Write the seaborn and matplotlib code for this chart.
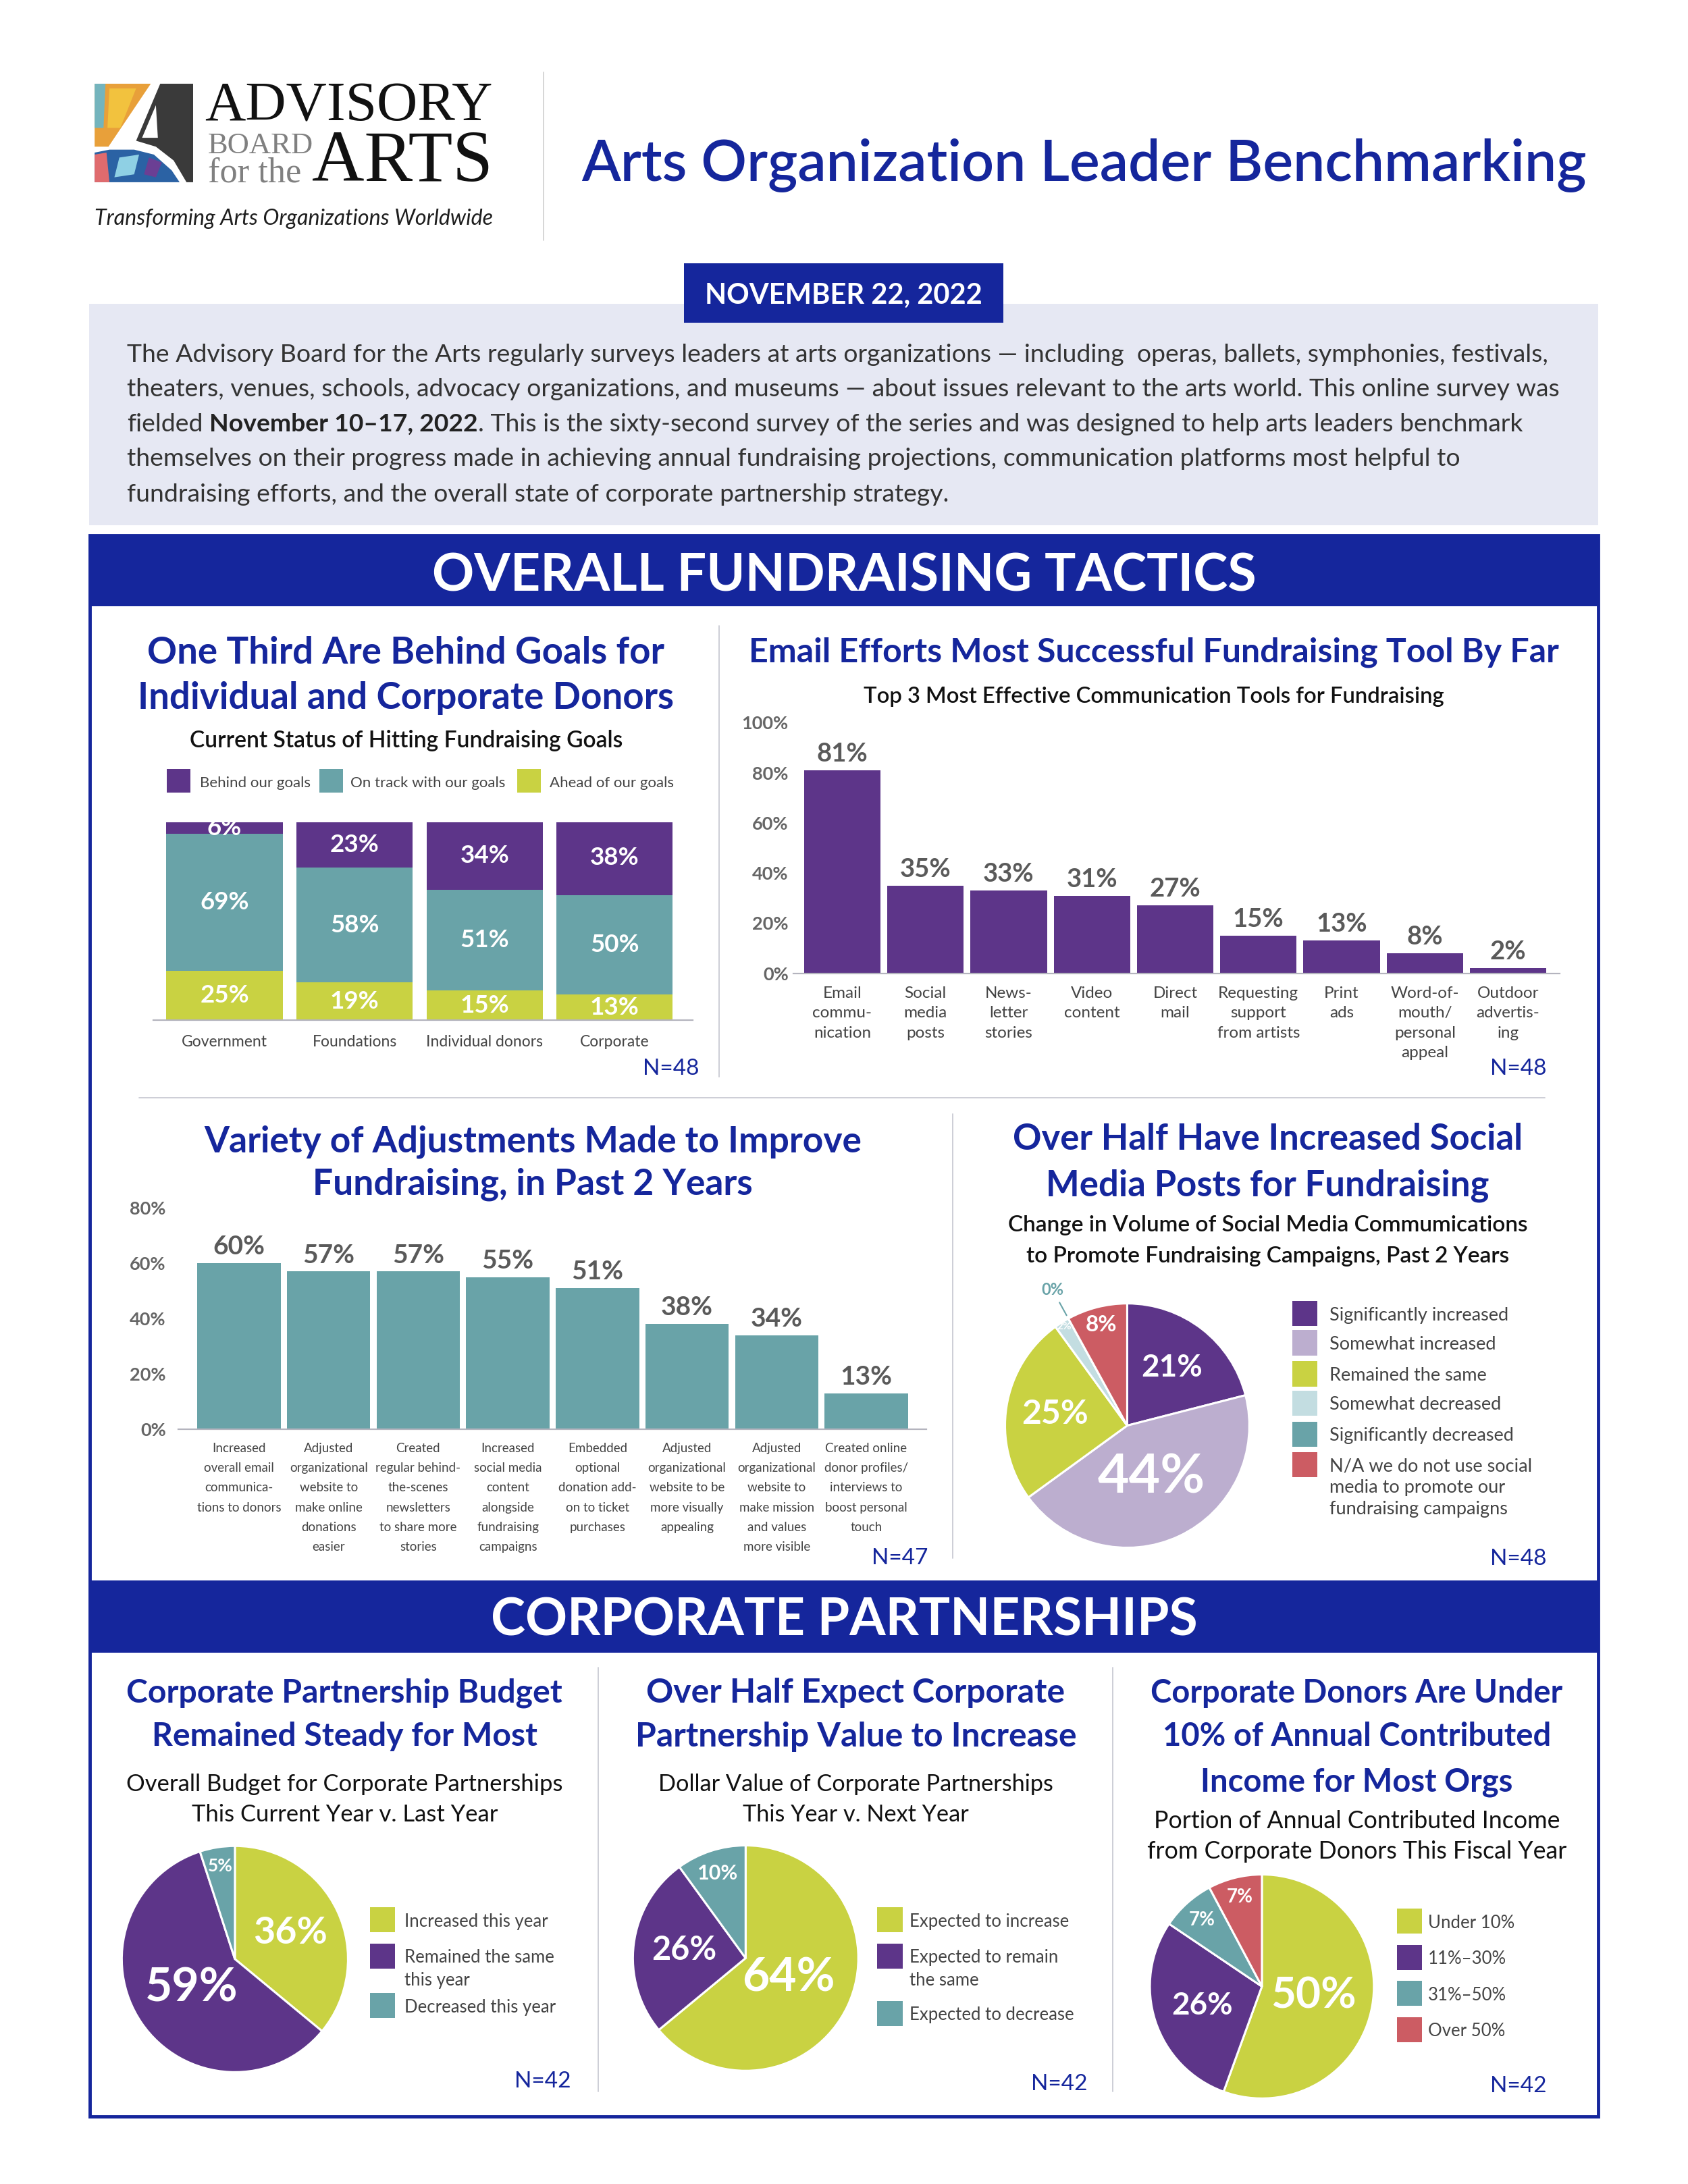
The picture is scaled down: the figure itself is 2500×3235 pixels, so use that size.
import matplotlib
matplotlib.use("Agg")
import matplotlib.pyplot as plt
import numpy as np
import pandas as pd
import seaborn as sns
from matplotlib.patches import Rectangle, Polygon
from matplotlib.lines import Line2D
from matplotlib import font_manager as fm

# ---------------- data ----------------
goal_categories = ["Government", "Foundations", "Individual donors", "Corporate"]
goal_behind = [6, 23, 34, 38]
goal_on_track = [69, 58, 51, 50]
goal_ahead = [25, 19, 15, 13]
goal_series = ["Behind our goals", "On track with our goals", "Ahead of our goals"]

tool_labels = ["Email\ncommu-\nnication", "Social\nmedia\nposts", "News-\nletter\nstories",
               "Video\ncontent", "Direct\nmail", "Requesting\nsupport\nfrom artists",
               "Print\nads", "Word-of-\nmouth/\npersonal\nappeal", "Outdoor\nadvertis-\ning"]
tool_values = [81, 35, 33, 31, 27, 15, 13, 8, 2]
tool_ticks = [0, 20, 40, 60, 80, 100]

adjust_labels = ["Increased\noverall email\ncommunica-\ntions to donors",
                 "Adjusted\norganizational\nwebsite to\nmake online\ndonations\neasier",
                 "Created\nregular behind-\nthe-scenes\nnewsletters\nto share more\nstories",
                 "Increased\nsocial media\ncontent\nalongside\nfundraising\ncampaigns",
                 "Embedded\noptional\ndonation add-\non to ticket\npurchases",
                 "Adjusted\norganizational\nwebsite to be\nmore visually\nappealing",
                 "Adjusted\norganizational\nwebsite to\nmake mission\nand values\nmore visible",
                 "Created online\ndonor profiles/\ninterviews to\nboost personal\ntouch"]
adjust_values = [60, 57, 57, 55, 51, 38, 34, 13]
adjust_ticks = [0, 20, 40, 60, 80]

social_labels = ["Significantly increased", "Somewhat increased", "Remained the same",
                 "Somewhat decreased", "Significantly decreased",
                 "N/A we do not use social\nmedia to promote our\nfundraising campaigns"]
social_values = [21, 44, 25, 2, 0, 8]

budget_labels = ["Increased this year", "Remained the same\nthis year", "Decreased this year"]
budget_values = [36, 59, 5]

value_labels = ["Expected to increase", "Expected to remain\nthe same", "Expected to decrease"]
value_values = [64, 26, 10]

income_labels = ["Under 10%", "11%\u201330%", "31%\u201350%", "Over 50%"]
income_values = [50, 26, 7, 7]

sample_sizes = ["N=48", "N=48", "N=47", "N=48", "N=42", "N=42", "N=42"]

# ---------------- style ----------------
PURPLE = "#5d3589"
TEAL = "#69a3a8"
YELLOW = "#c9d242"
LAVENDER = "#bcaecf"
LIGHTBLUE = "#c3dde1"
RED = "#cc5c63"
BLUE = "#15269c"
GRAY = "#5a5a5a"
TXT = "#3a3a3a"

sns.set_theme(style="white")
plt.rcParams["font.family"] = ["Lato", "DejaVu Sans"]
names = {f.name for f in fm.fontManager.ttflist}
HAS_NARROW = "Liberation Sans Narrow" in names
NARROW = ["Liberation Sans Narrow", "Lato", "DejaVu Sans"] if HAS_NARROW else ["Lato", "DejaVu Sans"]
SERIF = ["Liberation Serif", "DejaVu Serif"]

W, H = 1213.0, 1570.0
S = 2500.0 / W
fig = plt.figure(figsize=(25, 32.35), dpi=100)
fig.patch.set_facecolor("white")
R = fig.canvas.get_renderer()


def fx(x):
    return x / W


def fy(y):
    return 1 - y / H


def add_ax(x0, y0, x1, y1):
    ax = fig.add_axes([fx(x0), fy(y1), (x1 - x0) / W, (y1 - y0) / H])
    ax.patch.set_visible(False)
    return ax


def rect(x0, y0, x1, y1, fc="none", ec="none", lw=0, z=1):
    fig.add_artist(Rectangle((fx(x0), fy(y1)), (x1 - x0) / W, (y1 - y0) / H,
                             transform=fig.transFigure, facecolor=fc, edgecolor=ec,
                             linewidth=lw, zorder=z))


def line(x0, y0, x1, y1, c="#c9cad3", lw=1.3):
    fig.add_artist(Line2D([fx(x0), fx(x1)], [fy(y0), fy(y1)], transform=fig.transFigure,
                          color=c, linewidth=lw, zorder=2))


def txt(x, y, s, size, ha="center", va="center_baseline", color=TXT, weight="normal",
        family=None, style="normal", fitw=None):
    t = fig.text(fx(x), fy(y), s, fontsize=size, ha=ha, va=va, color=color,
                 fontweight=weight, fontstyle=style, zorder=4)
    if family is not None:
        t.set_fontfamily(family)
    if fitw:
        w = t.get_window_extent(R).width
        if w > 0:
            t.set_fontsize(size * fitw * S / w)
    return t


def block(x, ys, lines, size, fitw, color=BLUE, weight="bold", family=None):
    ts = [txt(x, y, s, size, color=color, weight=weight, family=family) for y, s in zip(ys, lines)]
    w = ts[0].get_window_extent(R).width
    ns = size * fitw * S / w
    for t in ts:
        t.set_fontsize(ns)
    return ts


# ---------------- header ----------------
lax = fig.add_axes([fx(68), fy(131), 71 / W, 71 / H])
lax.set_xlim(0, 1)
lax.set_ylim(0, 1)
lax.axis("off")


def P(pts, c):
    lax.add_patch(Polygon(pts, closed=True, facecolor=c, edgecolor="none"))


P([(0, 0.36), (0, 1), (0.57, 1), (0.14, 0.36)], "#e8a03a")
P([(0.13, 0.55), (0.15, 0.95), (0.42, 0.95), (0.26, 0.55)], "#f2c23e")
P([(0, 0.55), (0, 1), (0.11, 1), (0.09, 0.55)], "#74b4bd")
P([(0, 0), (0, 0.3), (0.15, 0.33), (0.4, 0.33), (0.6, 0.28), (0.78, 0.12), (0.86, 0)], "#2b62a4")
P([(0, 0), (0, 0.28), (0.12, 0.3), (0.15, 0)], "#e06b6e")
P([(0.2, 0.05), (0.25, 0.25), (0.45, 0.28), (0.4, 0.08)], "#8fd0e4")
P([(0.5, 0.08), (0.55, 0.25), (0.68, 0.2), (0.62, 0.05)], "#6b3f94")
P([(0.665, 1), (1, 1), (1, 0), (0.93, 0), (0.8, 0.22), (0.62, 0.36), (0.42, 0.42)], "#3a3a3a")
P([(0.62, 0.78), (0.48, 0.45), (0.64, 0.45)], "white")

txt(147, 86.7, "ADVISORY", 55, ha="left", va="baseline", color="#111111", family=SERIF, fitw=207)
txt(149.5, 110.0, "BOARD", 33, ha="left", va="baseline", color="#808080", family=SERIF, fitw=76)
txt(149.5, 130.8, "for the", 30, ha="left", va="baseline", color="#808080", family=SERIF, fitw=67)
txt(224.4, 130.2, "ARTS", 75, ha="left", va="baseline", color="#111111", family=SERIF, fitw=130)
txt(68, 156, "Transforming Arts Organizations Worldwide", 22, ha="left", color="#1e1e1e",
    style="italic", fitw=286)
line(390.8, 52, 390.8, 173, c="#cfcfcf", lw=1.2)
txt(417.8, 130, "Arts Organization Leader Benchmarking", 58, ha="left", va="baseline",
    color=BLUE, weight="semibold", fitw=721)

# intro box
rect(64, 218.4, 1148.5, 377.5, fc="#e6e8f3", z=0.5)
rect(491.4, 189.4, 721, 232, fc=BLUE, z=1)
txt(606.2, 211, "NOVEMBER 22, 2022", 25, color="white", weight="bold", fitw=199.6)

para = ["The Advisory Board for the Arts regularly surveys leaders at arts organizations \u2014 including  operas, ballets, symphonies, festivals,",
        "theaters, venues, schools, advocacy organizations, and museums \u2014 about issues relevant to the arts world. This online survey was",
        None,
        "themselves on their progress made in achieving annual fundraising projections, communication platforms most helpful to",
        "fundraising efforts, and the overall state of corporate partnership strategy."]
para_y = [253.5, 278.5, 303.5, 328.5, 354]
t0 = txt(91.3, para_y[0], para[0], 24, ha="left", color="#333333", fitw=1021)
psize = t0.get_fontsize()
for s, y in zip(para, para_y):
    if s is not None and s is not para[0]:
        txt(91.3, y, s, psize, ha="left", color="#333333")
tmp1 = fig.text(0, 0, "xx", fontsize=psize)
tmp2 = fig.text(0, 0, "x x", fontsize=psize)
space_px = tmp2.get_window_extent(R).width - tmp1.get_window_extent(R).width
tmp1.remove()
tmp2.remove()
ta = txt(91.3, para_y[2], "fielded", psize, ha="left", color="#333333")
xa = ta.get_window_extent(R).x1 + space_px
tb = fig.text(xa / fig.bbox.width, fy(para_y[2]), "November 10\u201317, 2022", fontsize=psize,
              ha="left", va="center_baseline", color="#222222", fontweight="bold")
xb = tb.get_window_extent(R).x1
fig.text(xb / fig.bbox.width, fy(para_y[2]),
         ". This is the sixty-second survey of the series and was designed to help arts leaders benchmark",
         fontsize=psize, ha="left", va="center_baseline", color="#333333")

# frame & banners
rect(64.5, 385, 1148.5, 1521.7, ec=BLUE, lw=3.5, z=1.5)
rect(64.5, 385, 1148.5, 436, fc=BLUE, z=1)
rect(64.5, 1136, 1148.5, 1188, fc=BLUE, z=1)
txt(606.5, 411, "OVERALL FUNDRAISING TACTICS", 48, color="white", weight="bold", fitw=592)
txt(606.5, 1162, "CORPORATE PARTNERSHIPS", 48, color="white", weight="bold", fitw=508)

# separators
line(100, 789, 1110, 789)
line(516.5, 450, 516.5, 774)
line(684.6, 800.6, 684.6, 1120)
line(430, 1198.6, 430, 1503.6)
line(799.6, 1198.6, 799.6, 1503.6)


def style_bar_ax(ax, ticks=None, pad=5):
    for s in ["top", "right", "left"]:
        ax.spines[s].set_visible(False)
    ax.spines["bottom"].set_color("#b4b4be")
    ax.spines["bottom"].set_linewidth(1.6)
    ax.set_xlabel("")
    ax.set_ylabel("")
    if ticks is None:
        ax.set_yticks([])
    else:
        ax.set_yticks(ticks, labels=[f"{t}%" for t in ticks])
        for t in ax.get_yticklabels():
            t.set_fontweight("bold")
            t.set_color("#666666")
            t.set_fontsize(19.5)
        ax.tick_params(axis="y", length=0, pad=pad)
    ax.tick_params(axis="x", length=0)


# ---------------- chart 1: stacked bars ----------------
block(291.7, [467, 499.5], ["One Third Are Behind Goals for", "Individual and Corporate Donors"], 34, 372)
txt(291.7, 531, "Current Status of Hitting Fundraising Goals", 22, color="#111111", weight="semibold", fitw=310.5)
leg_x = [120, 229.5, 371.8]
leg_tx = [143.4, 252, 394.8]
for c, x0, tx_, lab in zip([PURPLE, TEAL, YELLOW], leg_x, leg_tx, goal_series):
    rect(x0, 553, x0 + 17, 570, fc=c, z=1)
    txt(tx_, 562, lab, 17 if HAS_NARROW else 16, ha="left", color="#444444", family=NARROW)

ax1 = add_ax(110, 591, 497.7, 733.4)
cum_mid = [o + a for o, a in zip(goal_on_track, goal_ahead)]
cum_top = [b + m for b, m in zip(goal_behind, cum_mid)]
for vals, col in [(cum_top, PURPLE), (cum_mid, TEAL), (goal_ahead, YELLOW)]:
    sns.barplot(x=goal_categories, y=vals, color=col, saturation=1, width=0.895,
                errorbar=None, linewidth=0, edgecolor="none", ax=ax1)
ax1.set_ylim(0, 100)
ax1.set_xlim(-0.55, 3.6)
style_bar_ax(ax1)
ax1.set_xticks(range(len(goal_categories)), labels=goal_categories)
for t in ax1.get_xticklabels():
    t.set_fontfamily(NARROW)
    t.set_fontsize(18 if HAS_NARROW else 16.5)
    t.set_color("#444444")
ax1.tick_params(axis="x", pad=16)
for i in range(len(goal_categories)):
    a, o, b = goal_ahead[i], goal_on_track[i], goal_behind[i]
    for yv, v in [(a / 2, a), (a + o / 2, o), (a + o + b / 2, b)]:
        ax1.text(i, yv, f"{v}%", ha="center", va="center", color="white",
                 fontsize=26.5, fontweight="bold")
txt(482, 767, sample_sizes[0], 24, color=BLUE)

# ---------------- chart 2: tools ----------------
txt(829, 467, "Email Efforts Most Successful Fundraising Tool By Far", 32, color=BLUE, weight="bold", fitw=584)
txt(829, 499.5, "Top 3 Most Effective Communication Tools for Fundraising", 22, color="#111111",
    weight="semibold", fitw=417.3)
ax2 = add_ax(570, 519.4, 1120.8, 699.7)
sns.barplot(x=tool_labels, y=tool_values, color=PURPLE, saturation=1, width=0.92,
            errorbar=None, linewidth=0, edgecolor="none", ax=ax2)
ax2.set_ylim(0, 100)
ax2.set_xlim(-0.59, 8.62)
style_bar_ax(ax2, tool_ticks, pad=5)
ax2.set_xticks(range(len(tool_labels)), labels=tool_labels)
for t in ax2.get_xticklabels():
    t.set_fontsize(17.5)
    t.set_color("#444444")
    t.set_linespacing(1.48)
ax2.tick_params(axis="x", pad=14)
ax2.bar_label(ax2.containers[0], labels=[f"{v}%" for v in tool_values], padding=5,
              fontsize=27.5, fontweight="bold", color=GRAY)
txt(1091, 767, sample_sizes[1], 24, color=BLUE)

# ---------------- chart 3: adjustments ----------------
block(383, [818.5, 849], ["Variety of Adjustments Made to Improve", "Fundraising, in Past 2 Years"], 34, 473.6)
ax3 = add_ax(128, 868.3, 665.6, 1027.5)
sns.barplot(x=adjust_labels, y=adjust_values, color=TEAL, saturation=1, width=0.93,
            errorbar=None, linewidth=0, edgecolor="none", ax=ax3)
ax3.set_ylim(0, 80)
ax3.set_xlim(-0.68, 7.67)
style_bar_ax(ax3, adjust_ticks, pad=13)
ax3.set_xticks(range(len(adjust_labels)), labels=adjust_labels)
for t in ax3.get_xticklabels():
    t.set_fontfamily(NARROW)
    t.set_fontsize(15 if HAS_NARROW else 13.5)
    t.set_color("#444444")
    t.set_linespacing(1.7 if HAS_NARROW else 1.88)
ax3.tick_params(axis="x", pad=14)
ax3.bar_label(ax3.containers[0], labels=[f"{v}%" for v in adjust_values], padding=5,
              fontsize=28, fontweight="bold", color=GRAY)
txt(646.5, 1118.5, sample_sizes[2], 24, color=BLUE)

# ---------------- pies ----------------


def pie_ax(cx, cy, r):
    ax = fig.add_axes([fx(cx - r), fy(cy + r), 2 * r / W, 2 * r / H])
    ax.patch.set_visible(False)
    return ax


def draw_pie(ax, values, colors, dists, sizes, text_colors=None):
    wedges, _ = ax.pie(values, colors=colors, startangle=90, counterclock=False,
                       wedgeprops=dict(edgecolor="white", linewidth=2.2))
    ax.set_xlim(-1, 1)
    ax.set_ylim(-1, 1)
    ax.axis("off")
    for k, (w, v) in enumerate(zip(wedges, values)):
        if dists[k] is None:
            continue
        ang = np.deg2rad((w.theta1 + w.theta2) / 2)
        ax.text(dists[k] * np.cos(ang), dists[k] * np.sin(ang), f"{v}%", ha="center",
                va="center", fontsize=sizes[k], fontweight="bold",
                color="white" if text_colors is None else text_colors[k])
    return wedges


def legend_rows(sq_x, ys, text_x, labels, colors, size, spacing, family=None, sq=18):
    for y, lab, c in zip(ys, labels, colors):
        rect(sq_x, y - sq / 2, sq_x + sq, y + sq / 2, fc=c, z=1)
        for k, part in enumerate(lab.split("\n")):
            txt(text_x, y + k * spacing, part, size, ha="left", color="#444444", family=family)


# chart 4
block(911, [817, 850], ["Over Half Have Increased Social", "Media Posts for Fundraising"], 34, 366.8)
block(911, [879.6, 901.8], ["Change in Volume of Social Media Commumications",
                            "to Promote Fundraising Campaigns, Past 2 Years"], 22, 373,
      color="#111111", weight="semibold")
social_colors = [PURPLE, LAVENDER, YELLOW, LIGHTBLUE, TEAL, RED]
ax4 = pie_ax(810, 1024.8, 87.8)
w4 = draw_pie(ax4, social_values, social_colors, [0.6, 0.47, 0.6, 0.96, None, 0.85],
              [33, 58, 36, 11, 0, 24])
ang0 = np.deg2rad((w4[4].theta1 + w4[4].theta2) / 2)
ax4.plot([1.03 * np.cos(ang0), 1.15 * np.cos(ang0)], [1.03 * np.sin(ang0), 1.15 * np.sin(ang0)],
         color=TEAL, lw=1.5, clip_on=False)
ax4.text(1.27 * np.cos(ang0), 1.27 * np.sin(ang0), f"{social_values[4]}%", ha="center",
         va="center", fontsize=17, fontweight="bold", color=TEAL)
legend_rows(928.6, [944.2, 965.3, 987.6, 1008.7, 1031, 1053], 955.3, social_labels,
            social_colors, 19.5, 15.3)
txt(1091, 1119, sample_sizes[3], 24, color=BLUE)

# chart 5
bsz = 20 if HAS_NARROW else 18.5
block(247.6, [1215, 1246.3], ["Corporate Partnership Budget", "Remained Steady for Most"], 34, 313.2,
      family=NARROW)
block(247.6, [1281, 1303], ["Overall Budget for Corporate Partnerships", "This Current Year v. Last Year"],
      22, 311.8, color="#111111", weight="normal", family=NARROW)
ax5 = pie_ax(168.8, 1408.3, 81.3)
draw_pie(ax5, budget_values, [YELLOW, PURPLE, TEAL], [0.54, 0.46, 0.83], [40, 50, 19])
legend_rows(265.7, [1380, 1406, 1441.8], 290.7, budget_labels, [YELLOW, PURPLE, TEAL], bsz, 16.7,
            family=NARROW)
txt(390, 1494.6, sample_sizes[4], 24, color=BLUE)

# chart 6
block(615, [1215, 1246.3], ["Over Half Expect Corporate", "Partnership Value to Increase"], 34, 301.4,
      family=NARROW)
block(615, [1281, 1303], ["Dollar Value of Corporate Partnerships", "This Year v. Next Year"],
      22, 283.4, color="#111111", weight="normal", family=NARROW)
ax6 = pie_ax(535.8, 1407.6, 81)
draw_pie(ax6, value_values, [YELLOW, PURPLE, TEAL], [0.42, 0.55, 0.79], [50, 35, 22])
legend_rows(630.5, [1380, 1406, 1447.3], 653.5, value_labels, [YELLOW, PURPLE, TEAL], bsz, 16.7,
            family=NARROW)
txt(761, 1496.6, sample_sizes[5], 24, color=BLUE)

# chart 7
block(975, [1215, 1246.5, 1279], ["Corporate Donors Are Under", "10% of Annual Contributed",
                                   "Income for Most Orgs"], 34, 295.9, family=NARROW)
block(975, [1307.6, 1329.4], ["Portion of Annual Contributed Income", "from Corporate Donors This Fiscal Year"],
      22, 291, color="#111111", weight="normal", family=NARROW)
ax7 = pie_ax(906.8, 1428, 80.5)
draw_pie(ax7, income_values, [YELLOW, PURPLE, TEAL, RED], [0.47, 0.56, 0.8, 0.82], [46, 33, 20, 20])
legend_rows(1003.8, [1381, 1407, 1433, 1459], 1026, income_labels, [YELLOW, PURPLE, TEAL, RED], bsz,
            16.7, family=NARROW)
txt(1091, 1498, sample_sizes[6], 24, color=BLUE)

fig.savefig("out.png", dpi=100, facecolor="white")
